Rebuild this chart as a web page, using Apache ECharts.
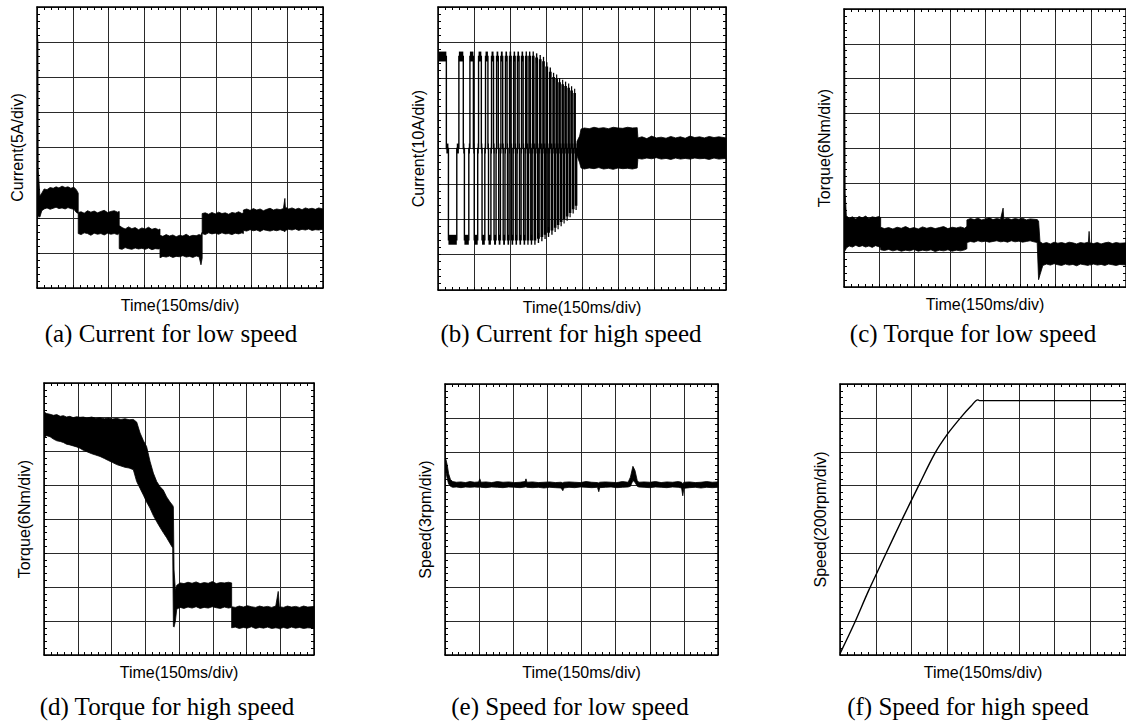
<!DOCTYPE html>
<html><head><meta charset="utf-8">
<script src="https://cdn.jsdelivr.net/npm/echarts@6/dist/echarts.min.js"></script>
<style>html,body{margin:0;padding:0;background:#fff}#c{width:1126px;height:722px}</style>
</head><body><div id="c"></div>
<script>
// ---------------- DATA (x in ms, y in divisions) ----------------
const timeTicks = [0, 1200, 150];          // min, max, interval (150 ms/div)
const divTicks = [0, 8, 1];                // min, max, interval (1 div)

const axisNames = ['Current(5A/div)','Current(10A/div)','Torque(6Nm/div)','Torque(6Nm/div)','Speed(3rpm/div)','Speed(200rpm/div)'];
const captions = ['(a) Current for low speed','(b) Current for high speed','(c) Torque for low speed','(d) Torque for high speed','(e) Speed for low speed','(f) Speed for high speed'];

// (a) current, low speed: noise band envelope
const aTime = [0,4,5,12,20,30,42,55,68,80,92,105,118,130,142,155,165,173,
  173,185,198,212,226,240,254,268,282,296,310,324,338,345,
  345,357,370,384,398,412,426,440,454,468,482,496,510,516,
  516,528,542,556,570,584,598,612,626,640,654,668,680,688,693,
  693,706,720,734,748,762,776,790,804,818,832,846,860,866,
  866,880,894,908,922,936,950,964,978,992,1006,1020,1034,1040,
  1042,1056,1070,1084,1098,1112,1126,1140,1154,1168,1182,1200];
const aLow = [2.0,2.0,2.05,2.02,2.2,2.25,2.28,2.24,2.27,2.3,2.26,2.28,2.25,2.29,2.26,2.24,2.15,2.12,
  1.55,1.52,1.57,1.55,1.5,1.56,1.53,1.55,1.51,1.56,1.53,1.55,1.52,1.55,
  1.12,1.1,1.15,1.12,1.1,1.14,1.11,1.13,1.1,1.14,1.09,1.12,1.11,1.12,
  0.86,0.9,0.88,0.91,0.87,0.9,0.89,0.92,0.88,0.9,0.87,0.91,0.89,0.66,0.85,
  1.55,1.52,1.57,1.54,1.56,1.53,1.57,1.54,1.55,1.52,1.56,1.54,1.57,1.55,
  1.64,1.62,1.66,1.63,1.65,1.61,1.66,1.64,1.62,1.65,1.63,1.66,1.63,1.6,
  1.64,1.67,1.65,1.68,1.64,1.67,1.65,1.68,1.64,1.66,1.65,1.67];
const aHigh = [7.3,7.0,3.4,2.62,2.7,2.82,2.8,2.86,2.84,2.88,2.85,2.9,2.86,2.88,2.84,2.87,2.8,2.7,
  2.15,2.17,2.13,2.2,2.16,2.19,2.14,2.18,2.21,2.15,2.18,2.2,2.16,2.18,
  1.78,1.72,1.68,1.74,1.69,1.72,1.66,1.71,1.68,1.73,1.67,1.7,1.66,1.68,
  1.5,1.47,1.52,1.48,1.51,1.46,1.5,1.48,1.53,1.47,1.5,1.49,1.52,1.5,1.6,
  2.12,2.14,2.1,2.15,2.11,2.16,2.12,2.14,2.1,2.15,2.13,2.17,2.12,2.14,
  2.22,2.25,2.21,2.26,2.22,2.25,2.2,2.24,2.27,2.22,2.25,2.23,2.26,2.55,
  2.3,2.25,2.28,2.24,2.27,2.23,2.28,2.25,2.27,2.24,2.28,2.25];

// (b) current, high speed: six-step phase current, cycle start times and plateau levels
const bCycleStart = [0,87,133,169,198,223,244,262,281,298,315,331,348,365,379,394,408,423,437,450,465,479,492,504,517,529,542,554,567];
const bPulseEnd = 579;
const bHigh = [6.6,6.6,6.6,6.6,6.6,6.6,6.6,6.6,6.6,6.6,6.6,6.6,6.6,6.6,6.6,6.6,6.55,6.5,6.45,6.3,6.15,6.0,5.95,5.85,5.8,5.75,5.7,5.62,5.55];
const bLow = [1.42,1.42,1.42,1.42,1.42,1.42,1.42,1.42,1.42,1.42,1.42,1.42,1.42,1.42,1.42,1.42,1.47,1.52,1.58,1.64,1.7,1.78,1.86,1.94,2.02,2.1,2.2,2.3,2.4];
const bMid = 4.0;
const bNoise = 0.14;   // half thickness of the plateau ripple, div
// (b) steady-state ripple band after acceleration
const bTailTime = [579,590,596,610,630,650,670,690,710,730,750,770,790,810,830,833,850,870,890,910,930,950,970,990,1010,1030,1050,1070,1090,1110,1130,1150,1170,1200];
const bTailLow = [3.8,3.6,3.45,3.42,3.45,3.43,3.46,3.42,3.44,3.41,3.45,3.43,3.44,3.42,3.45,3.72,3.7,3.73,3.71,3.74,3.7,3.72,3.69,3.73,3.7,3.72,3.7,3.73,3.71,3.72,3.69,3.73,3.7,3.72];
const bTailHigh = [4.2,4.35,4.55,4.58,4.56,4.6,4.57,4.59,4.56,4.6,4.58,4.57,4.6,4.58,4.59,4.3,4.33,4.28,4.35,4.3,4.32,4.29,4.34,4.3,4.33,4.29,4.35,4.31,4.33,4.3,4.34,4.31,4.33,4.3];

// (c) torque, low speed
const cTime = [0,3,5,10,22,36,50,64,78,92,106,120,134,148,156,
  156,172,190,208,226,244,262,280,298,316,334,352,370,388,406,424,442,460,478,496,514,523,
  523,538,554,570,586,602,618,634,650,666,677,680,696,712,728,744,760,776,792,808,822,828,
  834,846,862,878,894,910,926,942,958,974,990,1006,1022,1040,1043,1046,1062,1078,1094,1110,1126,1142,1158,1174,1200];
const cLow = [1.1,1.1,1.05,1.12,1.18,1.15,1.2,1.16,1.19,1.15,1.18,1.14,1.19,1.16,1.12,
  1.07,1.05,1.08,1.04,1.07,1.03,1.06,1.04,1.08,1.03,1.06,1.04,1.07,1.02,1.06,1.04,1.07,1.03,1.06,1.04,1.07,1.1,
  1.28,1.31,1.29,1.33,1.3,1.32,1.29,1.31,1.33,1.3,1.31,1.32,1.29,1.33,1.3,1.32,1.29,1.31,1.33,1.3,1.28,0.21,
  0.35,0.62,0.66,0.63,0.67,0.64,0.62,0.66,0.63,0.65,0.61,0.66,0.64,0.62,0.65,0.63,0.66,0.63,0.65,0.62,0.66,0.64,0.62,0.65,0.63];
const cHigh = [7.0,6.9,2.7,2.05,1.98,2.02,1.96,2.03,1.99,2.04,1.97,2.02,2.0,2.03,2.0,
  1.72,1.68,1.71,1.67,1.72,1.69,1.74,1.68,1.71,1.67,1.73,1.69,1.72,1.68,1.71,1.74,1.68,1.72,1.7,1.73,1.69,1.75,
  1.93,1.97,1.94,1.98,1.93,1.96,1.99,1.94,1.97,1.95,2.27,1.95,1.98,1.94,1.97,1.95,1.98,1.93,1.96,1.95,1.94,1.9,
  1.3,1.25,1.28,1.24,1.29,1.26,1.28,1.25,1.29,1.27,1.24,1.28,1.26,1.29,1.6,1.27,1.25,1.28,1.24,1.27,1.29,1.25,1.28,1.26,1.27];

// (d) torque, high speed
const dTime = [0,12,27,42,57,72,86,100,115,130,145,160,175,190,212,230,249,268,286,305,323,342,360,378,397,412,427,442,456,471,486,501,516,530,545,560,572,575,578,584,
  590,605,622,640,658,676,694,712,730,748,766,784,802,820,834,
  834,850,868,886,904,922,940,958,976,994,1012,1030,1041,1046,1064,1082,1100,1118,1136,1154,1172,1200];
const dLow = [6.4,6.45,6.42,6.35,6.3,6.28,6.25,6.2,6.18,6.15,6.12,6.08,6.02,5.98,5.92,5.88,5.84,5.78,5.72,5.66,5.6,5.56,5.52,5.5,5.45,5.1,4.9,4.7,4.5,4.32,4.1,3.92,3.75,3.6,3.45,3.28,3.15,0.84,0.82,1.0,
  1.35,1.4,1.37,1.41,1.38,1.42,1.37,1.4,1.38,1.42,1.39,1.37,1.41,1.38,1.4,
  0.8,0.82,0.78,0.81,0.79,0.83,0.78,0.81,0.79,0.82,0.78,0.8,0.79,0.77,0.81,0.78,0.82,0.79,0.81,0.78,0.8,0.79];
const dHigh = [7.15,7.1,7.08,7.05,7.07,7.02,7.04,7.0,7.02,6.98,7.01,6.99,7.0,6.97,7.0,6.96,6.98,6.95,6.97,6.94,6.96,6.93,6.95,6.92,6.93,6.85,6.53,6.3,6.13,5.7,5.35,5.1,4.95,4.85,4.65,4.5,4.4,4.35,2.5,1.9,
  2.05,2.12,2.1,2.14,2.11,2.15,2.1,2.13,2.11,2.16,2.1,2.13,2.12,2.14,2.12,
  1.42,1.4,1.44,1.41,1.45,1.42,1.4,1.44,1.41,1.43,1.4,1.44,1.87,1.42,1.4,1.44,1.41,1.43,1.4,1.44,1.41,1.43];

// (e) speed, low speed
const eTime = [0,4,10,16,24,34,50,70,90,110,130,148,153,158,180,205,230,255,280,305,330,352,356,360,385,410,435,460,485,510,518,522,545,570,595,620,645,670,676,680,705,730,755,780,805,815,826,835,845,852,875,900,925,950,975,1000,1025,1040,1045,1050,1075,1100,1125,1150,1175,1200];
const eLow = [5.45,5.4,5.2,5.05,4.98,4.95,4.96,4.94,4.96,4.95,4.96,4.95,4.97,4.95,4.94,4.96,4.95,4.94,4.96,4.95,4.94,4.96,4.97,4.95,4.94,4.95,4.93,4.95,4.94,4.93,4.85,4.93,4.95,4.94,4.96,4.95,4.94,4.95,4.82,4.94,4.95,4.96,4.94,4.95,4.96,4.98,5.15,5.1,4.98,4.96,4.95,4.94,4.96,4.95,4.94,4.96,4.95,4.93,4.7,4.92,4.94,4.95,4.93,4.95,4.94,4.95];
const eHigh = [5.8,5.78,5.6,5.35,5.18,5.12,5.1,5.11,5.09,5.12,5.1,5.11,5.2,5.1,5.11,5.09,5.12,5.1,5.11,5.09,5.1,5.12,5.2,5.1,5.11,5.09,5.1,5.11,5.09,5.1,5.08,5.1,5.11,5.1,5.09,5.12,5.1,5.09,5.08,5.1,5.11,5.1,5.09,5.12,5.1,5.25,5.57,5.45,5.15,5.1,5.11,5.1,5.12,5.09,5.11,5.1,5.12,5.1,5.05,5.1,5.11,5.09,5.1,5.12,5.1,5.11];

// (f) speed, high speed
const fTime = [0,58,120,190,259,328,398,453,509,550,578,585,1200];
const fSpeed = [0.04,0.9,1.9,2.95,3.98,4.97,5.95,6.54,7.03,7.35,7.53,7.51,7.51];

// ---------------- CHART ----------------
const grids = [
  {left:37, top:7, width:286, height:281},
  {left:438, top:7, width:288, height:283},
  {left:844, top:9, width:284, height:278},
  {left:44, top:383, width:270, height:272},
  {left:445, top:384, width:273, height:271},
  {left:840, top:384, width:289, height:271}
];
const captionPos = [[171,333],[571,333],[973,333],[167,706],[570,706],[968,706]];

const frame = {show:true, onZero:false, lineStyle:{color:'#000', width:1.5}};
const minor = {show:true, splitNumber:5, length:3, lineStyle:{color:'#000', width:1}};
const tick = {show:true, inside:true, length:3, lineStyle:{color:'#000'}};
const split = {show:true, lineStyle:{color:'#2a2a2a', width:1}};
const nameFont = {fontFamily:'Liberation Sans, Arial, sans-serif', fontSize:16, color:'#000'};

const xAxis = [], yAxis = [];
grids.forEach((g,i)=>{
  xAxis.push({type:'value', gridIndex:i, position:'bottom', min:timeTicks[0], max:timeTicks[1], interval:timeTicks[2],
    name:'Time(150ms/div)', nameLocation:'middle', nameGap:9, nameTextStyle:nameFont,
    axisLine:frame, axisTick:tick, minorTick:minor, axisLabel:{show:false}, splitLine:split});
  xAxis.push({type:'value', gridIndex:i, position:'top', min:timeTicks[0], max:timeTicks[1], interval:timeTicks[2],
    axisLine:frame, axisTick:tick, minorTick:minor, axisLabel:{show:false}, splitLine:{show:false}});
  yAxis.push({type:'value', gridIndex:i, position:'left', min:divTicks[0], max:divTicks[1], interval:divTicks[2],
    name:axisNames[i], nameLocation:'middle', nameGap:12, nameTextStyle:nameFont,
    axisLine:frame, axisTick:tick, minorTick:minor, axisLabel:{show:false}, splitLine:split});
  yAxis.push({type:'value', gridIndex:i, position:'right', min:divTicks[0], max:divTicks[1], interval:divTicks[2],
    axisLine:frame, axisTick:tick, minorTick:minor, axisLabel:{show:false}, splitLine:{show:false}});
});

function band(panel, t, lo, hi){
  const data = t.map((x,k)=>[x, lo[k], hi[k]]);
  return {type:'custom', xAxisIndex:panel*2, yAxisIndex:panel*2, clip:true, silent:true, z:3,
    data:data, encode:{x:0, y:[1,2]},
    renderItem:function(params, api){
      if (params.dataIndex !== 0) return null;
      const pts=[];
      for (let k=0;k<data.length;k++) pts.push(api.coord([data[k][0], data[k][2]]));
      for (let k=data.length-1;k>=0;k--) pts.push(api.coord([data[k][0], data[k][1]]));
      return {type:'polygon', shape:{points:pts}, style:{fill:'#000', stroke:'#000', lineWidth:0.8}};
    }};
}

// six-step pulses for (b): one custom item per cycle
const bData = bCycleStart.map((s,k)=>[s, (k+1<bCycleStart.length)?bCycleStart[k+1]:bPulseEnd, bHigh[k], bLow[k]]);
const bSeries = {type:'custom', xAxisIndex:2, yAxisIndex:2, clip:true, silent:true, z:3,
  data:bData, encode:{x:[0,1], y:[2,3]},
  renderItem:function(params, api){
    const s=api.value(0), e=api.value(1), hi=api.value(2), lo=api.value(3), P=e-s;
    const t1=s+0.4*P, t2=s+0.5*P, t3=s+0.9*P;
    const path=[[s,bMid],[s,hi],[t1,hi],[t1,bMid],[t2,bMid],[t2,lo],[t3,lo],[t3,bMid],[e,bMid]].map(p=>api.coord(p));
    const plate=(a,b,v)=>{const p1=api.coord([a,v+bNoise]), p2=api.coord([b,v-bNoise]);
      return {type:'rect', shape:{x:p1[0], y:p1[1], width:Math.max(p2[0]-p1[0],1), height:p2[1]-p1[1]}, style:{fill:'#000'}};};
    return {type:'group', children:[
      {type:'polyline', shape:{points:path}, style:{stroke:'#000', lineWidth:1.4, fill:null}},
      plate(s,t1,hi), plate(t2,t3,lo), plate(t1,t2,bMid), plate(t3,e,bMid)
    ]};
  }};

const series = [
  band(0, aTime, aLow, aHigh),
  bSeries,
  band(1, bTailTime, bTailLow, bTailHigh),
  band(2, cTime, cLow, cHigh),
  band(3, dTime, dLow, dHigh),
  band(4, eTime, eLow, eHigh),
  {type:'line', xAxisIndex:10, yAxisIndex:10, data:fTime.map((x,k)=>[x,fSpeed[k]]), showSymbol:false, silent:true, z:3,
    smooth:0.3, lineStyle:{color:'#000', width:1.4}}
];

const graphic = captions.map((c,i)=>({type:'text', x:captionPos[i][0], y:captionPos[i][1], silent:true,
  style:{text:c, font:'25px "Liberation Serif", "Times New Roman", serif', fill:'#000', textAlign:'center', textVerticalAlign:'middle', align:'center', verticalAlign:'middle'}}));

const chart = echarts.init(document.getElementById('c'), null, {renderer:'svg'});
chart.setOption({animation:false, backgroundColor:'#fff', grid:grids, xAxis:xAxis, yAxis:yAxis, series:series, graphic:graphic});
</script></body></html>
